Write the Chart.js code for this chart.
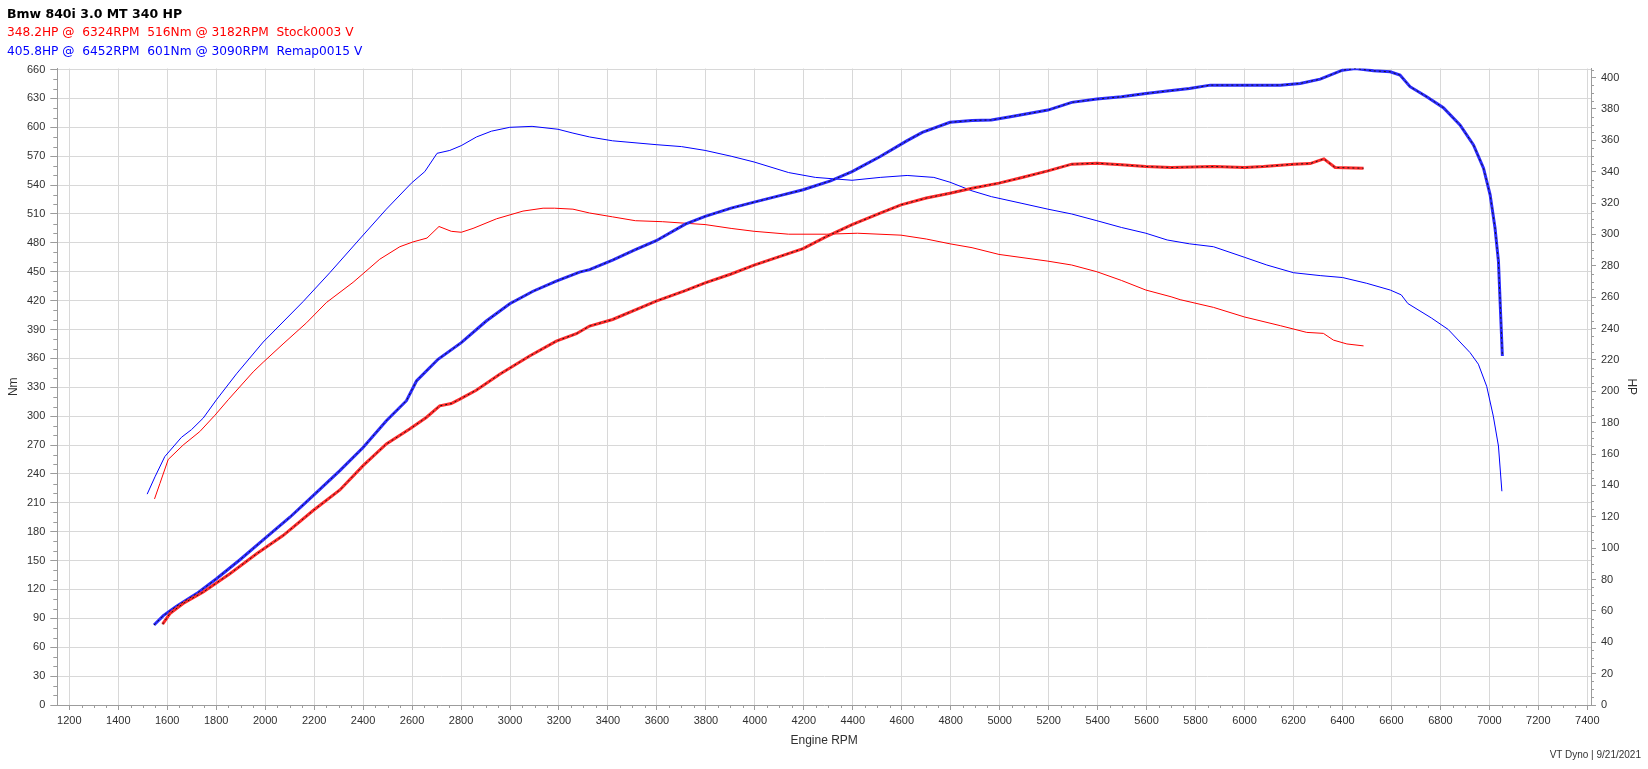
<!DOCTYPE html>
<html><head><meta charset="utf-8">
<script src="https://cdn.jsdelivr.net/npm/chart.js@4.4.1/dist/chart.umd.min.js"></script>
<style>
html,body{margin:0;padding:0;background:#fff;width:1648px;height:769px;overflow:hidden;}
#wrap{position:relative;width:1648px;height:769px;}
canvas{position:absolute;left:0;top:0;}
.hdr{position:absolute;left:7px;white-space:pre;font-family:"DejaVu Sans";font-size:12.2px;line-height:19px;}
#foot{position:absolute;right:7px;top:749px;font-family:"Liberation Sans";font-size:10px;color:#333;white-space:pre;}
</style></head><body>
<div id="wrap">
<canvas id="c" width="1648" height="769"></canvas>
<div class="hdr" id="t0" style="top:4px;font-weight:bold;font-size:12.5px;color:#000"></div>
<div class="hdr" id="t1" style="top:23px;color:#ff0000"></div>
<div class="hdr" id="t2" style="top:42px;color:#0000ff"></div>
<div id="foot"></div>
</div>
<script>
// ---- texts ----
const titleText = "Bmw 840i 3.0 MT 340 HP";
const stockText = "348.2HP @  6324RPM  516Nm @ 3182RPM  Stock0003 V";
const remapText = "405.8HP @  6452RPM  601Nm @ 3090RPM  Remap0015 V";
const footText = "VT Dyno | 9/21/2021";
const xTitle = "Engine RPM";
const yLeftTitle = "Nm";
const yRightTitle = "HP";

// ---- tick labels ----
const rpmTicks = [1200,1400,1600,1800,2000,2200,2400,2600,2800,3000,3200,3400,3600,3800,4000,4200,4400,4600,4800,5000,5200,5400,5600,5800,6000,6200,6400,6600,6800,7000,7200,7400];
const nmTicks = [0,30,60,90,120,150,180,210,240,270,300,330,360,390,420,450,480,510,540,570,600,630,660];
const hpTicks = [0,20,40,60,80,100,120,140,160,180,200,220,240,260,280,300,320,340,360,380,400];

// ---- Remap torque (Nm) ----
const remapTorqueRpm = [1518,1550,1590,1658,1699,1747,1801,1883,1992,2155,2264,2386,2495,2597,2652,2702,2754,2801,2863,2924,2999,3090,3196,3257,3325,3419,3597,3700,3797,3903,3997,4138,4247,4397,4512,4622,4731,4797,4887,4966,5091,5197,5294,5397,5497,5597,5684,5775,5873,6000,6091,6200,6309,6400,6499,6595,6640,6667,6763,6832,6921,6955,6989,7016,7037,7051];
const remapTorqueNm  = [219,237,258,278,286,298,317,344,377,419,449,484,515,542,554,573,576,581,590,596,600,601,598,594,590,586,582,580,576,570,564,553,548,545,548,550,548,543,534,528,521,515,510,503,496,490,483,479,476,465,457,449,446,444,438,431,426,417,402,390,366,354,331,300,269,222];

// ---- Stock torque (Nm) ----
const stockTorqueRpm = [1548,1570,1604,1665,1733,1795,1849,1951,1992,2073,2169,2250,2359,2400,2468,2550,2604,2661,2710,2760,2801,2849,2945,3053,3135,3182,3257,3325,3419,3512,3622,3797,3903,3997,4138,4294,4419,4597,4700,4797,4887,4997,5197,5294,5397,5497,5597,5700,5737,5873,6000,6146,6254,6322,6363,6418,6486];
const stockTorqueNm  = [214,230,255,270,284,301,317,346,356,375,397,418,439,448,463,476,481,485,497,492,491,495,505,513,516,516,515,511,507,503,502,499,495,492,489,489,490,488,484,479,475,468,461,457,450,441,431,424,421,413,403,394,387,386,379,375,373];

// ---- Remap power (HP) ----
const remapPowerRpm = [1546,1584,1638,1720,1801,1897,2005,2101,2196,2305,2400,2495,2577,2618,2706,2801,2903,2999,3094,3189,3284,3325,3419,3512,3597,3716,3797,3903,3997,4106,4197,4309,4397,4512,4622,4684,4797,4887,4966,5044,5197,5294,5397,5497,5597,5684,5775,5860,6000,6146,6227,6309,6400,6452,6527,6595,6635,6676,6744,6812,6880,6935,6976,7003,7023,7037,7053];
const remapPowerHp  = [51,57,63,71,80.5,92.6,107,119.7,133.5,149.4,164.2,181.2,194,206.6,220.4,231,244.8,255.8,263.8,270.2,276,277.6,283.7,290.3,296,306.6,311.5,316.8,320.6,324.9,328.5,334.2,340.1,349.7,359.8,365.1,371.5,372.7,373,375.1,379.3,384.2,386.3,387.8,389.9,391.4,393.1,395.2,395.2,395.2,396.3,399,404.7,405.8,404.3,403.7,401.6,394.2,387.8,380.8,369.8,357.1,342.2,325.3,304.1,282.9,222.5];

// ---- Stock power (HP) ----
const stockPowerRpm = [1581,1611,1665,1747,1856,1965,2073,2196,2305,2400,2495,2590,2658,2713,2760,2795,2862,2958,3080,3189,3271,3325,3419,3597,3716,3797,3903,3997,4197,4294,4397,4512,4597,4700,4797,4887,4997,5091,5197,5294,5397,5497,5597,5700,5873,6000,6077,6200,6268,6324,6370,6486];
const stockPowerHp  = [51.5,58.3,64.7,72,83.7,96.4,108,124,137.1,152.6,166.4,175.9,183.3,190.7,192.2,195,200.7,210.9,222.5,232,236.7,241.6,245.8,257.5,264.2,269.1,274.8,280.4,291,298.8,306.2,313.6,318.9,323.2,326.3,329.5,332.7,336.3,340.5,344.8,345.4,344.4,343.3,342.7,343.3,342.7,343.3,344.8,345.2,348.2,342.7,342.2];

document.getElementById('t0').textContent = titleText;
document.getElementById('t1').textContent = stockText;
document.getElementById('t2').textContent = remapText;
document.getElementById('foot').textContent = footText;

const pts = (xs, ys) => xs.map((x, i) => ({x: x, y: ys[i]}));

const AXIS = '#9c9c9c', GRID = '#d8d8d8', LBL = '#303030';
const tickFont = {family: 'Liberation Sans', size: 11};
const plain = v => String(v);

const minorTicks = {
  id: 'minorTicks',
  afterDraw(chart) {
    const ctx = chart.ctx, sx = chart.scales.x, sl = chart.scales.yNm, sr = chart.scales.yHp;
    ctx.save();
    ctx.strokeStyle = AXIS; ctx.lineWidth = 1;
    ctx.beginPath();
    for (let v = 1200; v <= 7400; v += 50) {
      if (v % 200 === 0) continue;
      const p = Math.round(sx.getPixelForValue(v)) + 0.5;
      ctx.moveTo(p, sx.top); ctx.lineTo(p, sx.top + 3);
    }
    for (let v = 0; v <= 660; v += 10) {
      if (v % 30 === 0) continue;
      const p = Math.round(sl.getPixelForValue(v)) + 0.5;
      ctx.moveTo(sl.right - 4, p); ctx.lineTo(sl.right, p);
    }
    for (let v = 0; v <= 405; v += 5) {
      if (v % 20 === 0) continue;
      const p = Math.round(sr.getPixelForValue(v)) + 0.5;
      ctx.moveTo(sr.left, p); ctx.lineTo(sr.left + 3, p);
    }
    ctx.stroke();
    ctx.restore();
  }
};

const lineDs = (label, data, color, width, axis, order, dash) => ({
  label: label, data: data, borderColor: color, borderWidth: width, yAxisID: axis, order: order,
  pointRadius: 0, fill: false, tension: 0, borderDash: dash || []
});

new Chart(document.getElementById('c'), {
  type: 'line',
  data: {
    datasets: [
      lineDs('Stock torque', pts(stockTorqueRpm, stockTorqueNm), '#ff0000', 1, 'yNm', 5),
      lineDs('Remap torque', pts(remapTorqueRpm, remapTorqueNm), '#0000ff', 1, 'yNm', 5),
      lineDs('Stock power', pts(stockPowerRpm, stockPowerHp), '#ff2a2a', 3, 'yHp', 3),
      lineDs('Stock power dash', pts(stockPowerRpm, stockPowerHp), '#1a1a1a', 1, 'yHp', 1, [2, 3]),
      lineDs('Remap power', pts(remapPowerRpm, remapPowerHp), '#2a2aff', 3, 'yHp', 3),
      lineDs('Remap power dash', pts(remapPowerRpm, remapPowerHp), '#1a1a1a', 1, 'yHp', 1, [2, 3])
    ]
  },
  options: {
    responsive: false, animation: false, devicePixelRatio: 1,
    layout: {padding: {top: 68.5, left: 0, right: 0, bottom: 0}},
    plugins: {legend: {display: false}, tooltip: {enabled: false}, title: {display: false}},
    scales: {
      x: {
        type: 'linear', min: 1151, max: 7415,
        afterBuildTicks: s => { s.ticks = rpmTicks.map(v => ({value: v})); },
        afterFit: s => { s.height = 64; },
        grid: {color: GRID, tickColor: AXIS, tickLength: 5, lineWidth: 1},
        border: {color: AXIS},
        ticks: {font: tickFont, color: LBL, padding: 4, maxRotation: 0, autoSkip: false, callback: plain},
        title: {display: true, text: xTitle, font: {family: 'Liberation Sans', size: 12}, color: LBL, padding: {top: 0, bottom: 21}}
      },
      yNm: {
        type: 'linear', position: 'left', min: 0, max: 661.1,
        afterBuildTicks: s => { s.ticks = nmTicks.map(v => ({value: v})); },
        afterFit: s => { s.width = 57.3; },
        grid: {color: GRID, tickColor: AXIS, tickLength: 7},
        border: {color: AXIS},
        ticks: {font: tickFont, color: LBL, padding: 5, autoSkip: false, callback: plain},
        title: {display: true, text: yLeftTitle, font: {family: 'Liberation Sans', size: 12}, color: LBL, padding: {top: 6, bottom: 0}}
      },
      yHp: {
        type: 'linear', position: 'right', min: 0, max: 405.8,
        afterBuildTicks: s => { s.ticks = hpTicks.map(v => ({value: v})); },
        afterFit: s => { s.width = 57; },
        grid: {drawOnChartArea: false, tickColor: AXIS, tickLength: 5},
        border: {color: AXIS},
        ticks: {font: tickFont, color: LBL, padding: 5, autoSkip: false, callback: plain},
        title: {display: true, text: yRightTitle, font: {family: 'Liberation Sans', size: 12}, color: LBL, padding: {top: 9, bottom: 0}}
      }
    }
  },
  plugins: [minorTicks]
});
</script>
</body></html>
